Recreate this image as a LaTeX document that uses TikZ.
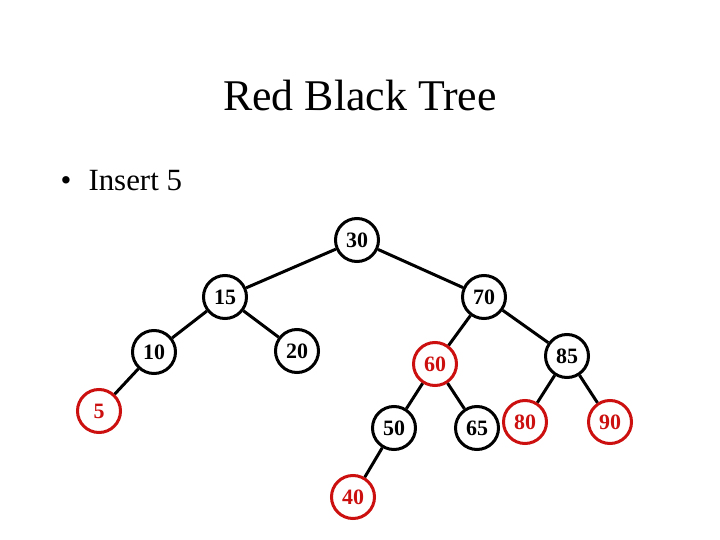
\documentclass[tikz,border=0pt]{standalone}
\usepackage{fontspec}
\setmainfont{Liberation Serif}
\definecolor{rbred}{RGB}{204,16,16}
\begin{document}
\begin{tikzpicture}[x=1bp,y=-1bp,
  blk/.style={circle,draw=black,line width=3bp,fill=white,minimum size=43bp,inner sep=0pt,font=\fontsize{22}{24}\selectfont\bfseries,text=black},
  rd/.style={blk,draw=rbred,text=rbred},
  edge/.style={line width=3bp,black}]
\fill[white] (0,0) rectangle (720,540);
\useasboundingbox (0,0) rectangle (720,540);
\node[font=\fontsize{44}{50}\selectfont] (title) at (360,96) {Red Black Tree};
\node[font=\fontsize{31}{34}\selectfont,anchor=base west] (bul) at (57,191) {\textbullet};
\node[font=\fontsize{31}{34}\selectfont,anchor=base west] (ins) at (85,191) {Insert 5};
\node[blk] (n30) at (357,240) {30};
\node[blk] (n15) at (225,297) {15};
\node[blk] (n70) at (484,297) {70};
\node[blk] (n10) at (154,352) {10};
\node[blk] (n20) at (297,351) {20};
\node[rd]  (n60) at (435,364) {60};
\node[blk] (n85) at (567,356) {85};
\node[rd]  (n5)  at (99,411) {5};
\node[blk] (n50) at (394,428) {50};
\node[blk] (n65) at (477,428) {65};
\node[rd]  (n80) at (525,422) {80};
\node[rd]  (n90) at (610,422) {90};
\node[rd]  (n40) at (353,497) {40};
\draw[edge] (n30) -- (n15);
\draw[edge] (n30) -- (n70);
\draw[edge] (n15) -- (n10);
\draw[edge] (n15) -- (n20);
\draw[edge] (n10) -- (n5);
\draw[edge] (n70) -- (n60);
\draw[edge] (n70) -- (n85);
\draw[edge] (n60) -- (n50);
\draw[edge] (n60) -- (n65);
\draw[edge] (n85) -- (n80);
\draw[edge] (n85) -- (n90);
\draw[edge] (n50) -- (n40);
\end{tikzpicture}
\end{document}
